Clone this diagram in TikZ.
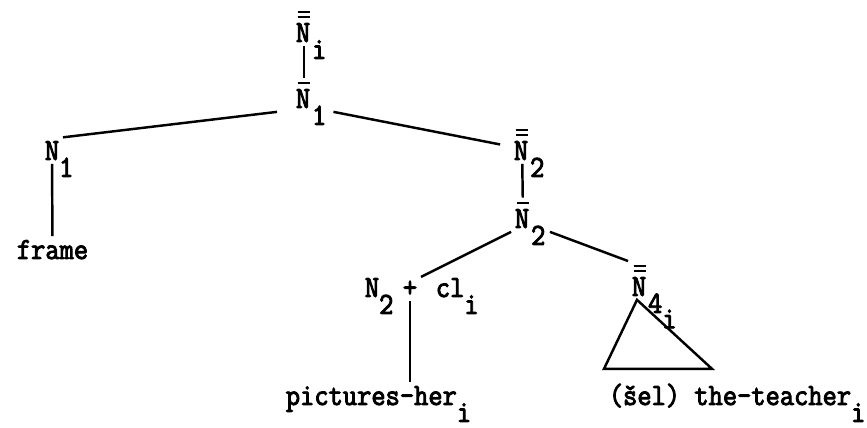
\documentclass[tikz,border=0pt]{standalone}
\usepackage{fontspec}
\newfontfamily\typer{Latin Modern Mono}[FakeBold=3,FakeStretch=0.9]
\newcommand{\treefont}{\typer\fontsize{17.5}{20}\selectfont}
\newcommand{\barrule}{\hbox to 0.525em{\hss\vrule width 0.42em height 0.07em depth 0pt\hss}}
\newcommand{\nb}{\vbox{\offinterlineskip\barrule\vskip 0.18em\hbox{N}}}
\newcommand{\nbb}{\vbox{\offinterlineskip\barrule\vskip 0.08em\barrule\vskip 0.18em\hbox{N}}}
\newcommand{\down}[1]{\rlap{\smash{\raisebox{-0.55em}{#1}}}}
\begin{document}
\begin{tikzpicture}[x=0.02cm,y=-0.02cm,
  lbl/.style={anchor=base,inner sep=2pt,font=\treefont},
  branch/.style={line width=1.4pt}]
\useasboundingbox (0,0) rectangle (867,428);
\node[lbl] (top) at (304,42) {\nbb\down{i}};
\node[lbl] (nbar1) at (304,108) {\nb\down{1}};
\node[lbl] (nleft) at (52,160) {N\down{1}};
\node[lbl,anchor=base west] (frame) at (13,259) {frame};
\node[lbl] (nbarbar2) at (522,160) {\nbb\down{2}};
\node[lbl] (nbar2) at (523,228) {\nb\down{2}};
\node[lbl] (nsub2) at (372,297) {N\down{2}};
\node[lbl] (plus) at (410,297) {+};
\node[lbl,anchor=base west] (clitic) at (432,297) {cl\down{i}};
\node[lbl] (nbarbar4) at (640,296) {\nbb\down{4\raisebox{-0.5em}{i}}};
\node[lbl,anchor=base west] (pictures) at (282,405) {pictures-her\down{i}};
\node[lbl,anchor=base west] (teacher) at (605,405) {(\v{s}el) the-teacher\down{i}};

\draw[branch] (top) -- (nbar1);
\draw[branch] ([xshift=-3mm]nbar1.south west) -- (nleft.north east);
\draw[branch] ([xshift=3.5mm]nbar1.south east) -- ([xshift=-2mm]nbarbar2.west);
\draw[branch] (nleft) -- (frame);
\draw[branch] (nbarbar2) -- (nbar2);
\draw[branch] (nbar2.south west) -- (plus.north east);
\draw[branch] ([xshift=3mm]nbar2.south east) -- (nbarbar4.north west);
\draw[branch] (plus) -- (plus |- pictures.north);
% triangle under N4
\draw[branch] ([xshift=-0.6mm]nbarbar4.south) -- ++(-33,69) -- ++(108,0) -- cycle;
\end{tikzpicture}
\end{document}
